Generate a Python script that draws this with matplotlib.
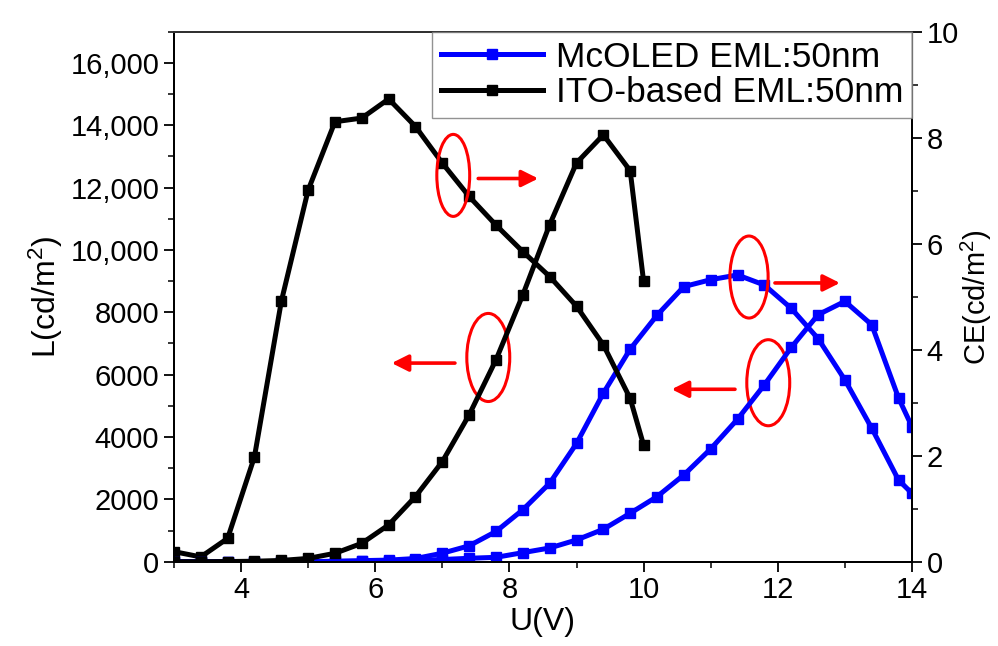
import matplotlib
matplotlib.use('Agg')
import matplotlib.pyplot as plt
from matplotlib.patches import Ellipse
from matplotlib.ticker import MultipleLocator, FuncFormatter

plt.rcParams['font.family'] = ['Liberation Sans', 'DejaVu Sans']
plt.rcParams['mathtext.fontset'] = 'custom'
plt.rcParams['mathtext.rm'] = 'Liberation Sans'
plt.rcParams['mathtext.default'] = 'regular'

# ITO-based device (black)
U_ito = [3.0, 3.4, 3.8, 4.2, 4.6, 5.0, 5.4, 5.8, 6.2, 6.6, 7.0, 7.4, 7.8, 8.2, 8.6, 9.0, 9.4, 9.8, 10.0]
L_ito = [0, 0, 5, 15, 40, 105, 270, 590, 1180, 2090, 3210, 4710, 6475, 8560, 10810, 12790, 13690, 12540, 8990]
CE_ito = [0.19, 0.09, 0.44, 1.98, 4.91, 7.01, 8.30, 8.37, 8.73, 8.21, 7.52, 6.89, 6.35, 5.85, 5.38, 4.82, 4.09, 3.08, 2.20]

# McOLED device (blue)
U_mc = [3.0, 3.4, 3.8, 4.2, 4.6, 5.0, 5.4, 5.8, 6.2, 6.6, 7.0, 7.4, 7.8, 8.2, 8.6, 9.0, 9.4, 9.8,
        10.2, 10.6, 11.0, 11.4, 11.8, 12.2, 12.6, 13.0, 13.4, 13.8, 14.0]
L_mc = [0, 0, 0, 0, 0, 0, 5, 10, 20, 40, 70, 110, 140, 290, 440, 697, 1040, 1554,
        2087, 2783, 3618, 4571, 5672, 6870, 7920, 8350, 7600, 5250, 4330]
CE_mc = [0, 0, 0, 0, 0, 0, 0.01, 0.02, 0.03, 0.06, 0.16, 0.30, 0.57, 0.98, 1.48, 2.23, 3.18, 4.01,
         4.65, 5.19, 5.32, 5.41, 5.22, 4.78, 4.21, 3.43, 2.52, 1.54, 1.29]

fig = plt.figure(figsize=(9.98, 6.46), dpi=100)
ax = fig.add_axes([0.1743, 0.1305, 0.7395, 0.8205])
ax2 = ax.twinx()

lw = 3.6
ms = 7
l1, = ax.plot(U_mc, L_mc, color='#0000ff', lw=lw, marker='s', ms=ms, label='McOLED EML:50nm')
l2, = ax.plot(U_ito, L_ito, color='black', lw=lw, marker='s', ms=ms, label='ITO-based EML:50nm')
ax2.plot(U_mc, CE_mc, color='#0000ff', lw=lw, marker='s', ms=ms)
ax2.plot(U_ito, CE_ito, color='black', lw=lw, marker='s', ms=ms)

ax.set_xlim(3, 14)
ax.set_ylim(0, 17000)
ax2.set_ylim(0, 10)

ax.xaxis.set_major_locator(MultipleLocator(2))
ax.xaxis.set_minor_locator(MultipleLocator(1))
ax.yaxis.set_major_locator(MultipleLocator(2000))
ax.yaxis.set_minor_locator(MultipleLocator(1000))
ax2.yaxis.set_major_locator(MultipleLocator(2))
ax2.yaxis.set_minor_locator(MultipleLocator(1))
ax.yaxis.set_major_formatter(FuncFormatter(lambda v, p: f'{v:,.0f}' if v >= 10000 else f'{v:.0f}'))

for a in (ax, ax2):
    a.tick_params(which='major', direction='out', length=7, width=1.3, labelsize=21)
    a.tick_params(which='minor', direction='out', length=4, width=1.1)
    for s in a.spines.values():
        s.set_linewidth(1.4)
ax.tick_params(top=False, which='both')
ax.spines['top'].set_color('#333333')

ax.set_xlabel('U(V)', fontsize=23, labelpad=2)
ax.set_ylabel(r'L(cd/m$^2$)', fontsize=23, labelpad=4)
ax2.set_ylabel(r'CE(cd/m$^2$)', fontsize=21, labelpad=0)

leg = ax.legend(handles=[l1, l2], loc='upper right', fontsize=25.5, frameon=True, fancybox=False,
                borderaxespad=0, handlelength=2.9, labelspacing=0.08, borderpad=0.25,
                handletextpad=0.35, markerscale=1.0)
leg.get_frame().set_edgecolor('#777777')
leg.get_frame().set_linewidth(1.0)
ax.set_zorder(ax2.get_zorder() + 1)
ax.patch.set_visible(False)

# red ellipses and arrows marking the axis of each curve (left-axis data coords)
ellipses = [(7.163, 12390, 0.49, 2630), (7.685, 6550, 0.64, 2825),
            (11.571, 9130, 0.57, 2630), (11.858, 5740, 0.64, 2760)]
for cx, cy, w, h in ellipses:
    ax.add_patch(Ellipse((cx, cy), w, h, fill=False, edgecolor='red', lw=2.2))

arrows = [((7.535, 12290), (8.43, 12290)), ((7.188, 6370), (6.245, 6370)),
          ((11.958, 8940), (12.927, 8940)), ((11.362, 5530), (10.418, 5530))]
for start, end in arrows:
    ax.annotate('', xy=end, xytext=start,
                arrowprops=dict(arrowstyle='-|>,head_length=1.0,head_width=0.5',
                                color='red', lw=2.6, shrinkA=0, shrinkB=0))

fig.savefig('out.png', dpi=100)
